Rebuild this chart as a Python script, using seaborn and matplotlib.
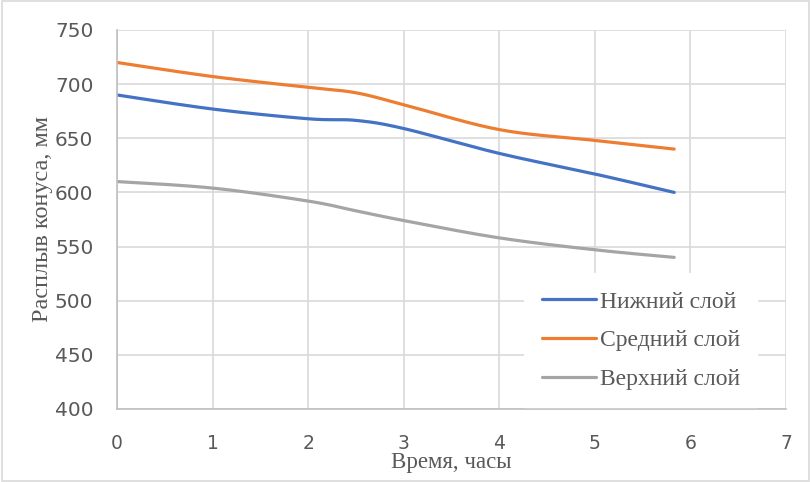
import numpy as np
import pandas as pd
import seaborn as sns
import matplotlib.pyplot as plt
from matplotlib.patches import Rectangle

# time points (hours) and cone spread (mm)
hours = [0, 1, 2, 2.5, 3, 4, 5, 5.83]
lower_layer = [690, 677, 668, 666.5, 659, 636, 617, 600]
middle_layer = [720, 707, 697, 692, 681, 658, 648, 640]
upper_layer = [610, 604, 592, 583, 574, 558, 547, 540]
series_names = ["Нижний слой", "Средний слой", "Верхний слой"]
colors = ["#4472C4", "#ED7D31", "#A5A5A5"]

x_ticks = [0, 1, 2, 3, 4, 5, 6, 7]
y_ticks = [400, 450, 500, 550, 600, 650, 700, 750]


def smooth(xs, ys, sx=95.6, sy=1.082, n=30):
    # excel-like smoothed line: bezier segments with 1/6 neighbour tangents
    p = np.column_stack([np.array(xs) * sx, np.array(ys) * sy])
    pts = np.vstack([p[0], p, p[-1]])
    out = []
    t = np.linspace(0, 1, n)[:, None]
    for i in range(1, len(pts) - 2):
        p0, p1 = pts[i], pts[i + 1]
        c1 = p0 + (pts[i + 1] - pts[i - 1]) / 6
        c2 = p1 - (pts[i + 2] - pts[i]) / 6
        seg = ((1 - t) ** 3) * p0 + 3 * ((1 - t) ** 2) * t * c1 + 3 * (1 - t) * t ** 2 * c2 + t ** 3 * p1
        out.append(seg if i == 1 else seg[1:])
    out = np.vstack(out)
    return out[:, 0] / sx, out[:, 1] / sy


frames = []
for name, vals in zip(series_names, [lower_layer, middle_layer, upper_layer]):
    sx_, sy_ = smooth(hours, vals)
    frames.append(pd.DataFrame({"x": sx_, "y": sy_, "series": name}))
df = pd.concat(frames, ignore_index=True)

sns.set_style("white")
plt.rcParams["font.family"] = ["DejaVu Sans"]

fig = plt.figure(figsize=(8.11, 4.82), dpi=100)
fig.patches.append(Rectangle((0.002, 0.003), 0.996, 0.994, transform=fig.transFigure,
                             fill=False, edgecolor="#d9d9d9", linewidth=1.2))
ax = fig.add_axes([0.1443, 0.1515, 0.8249, 0.7863])

sns.lineplot(data=df, x="x", y="y", hue="series", hue_order=series_names,
             palette=colors, sort=False, estimator=None, units="series",
             linewidth=2.3, ax=ax, legend=True)

ax.set_xlim(0, 7)
ax.set_ylim(400, 750)
ax.set_xticks(x_ticks)
ax.set_yticks(y_ticks)
ax.grid(True, color="#d9d9d9", linewidth=1.2)
ax.set_axisbelow(True)
for s in ["top", "right"]:
    ax.spines[s].set_visible(False)
ax.spines["left"].set_color("#bfbfbf")
ax.spines["bottom"].set_color("#bfbfbf")
ax.spines["left"].set_linewidth(1.2)
ax.spines["bottom"].set_linewidth(1.2)
ax.tick_params(axis="x", direction="out", length=4, color="#bfbfbf", width=1.2,
               labelsize=13.5, labelcolor="#595959", pad=14)
ax.tick_params(axis="y", length=0, labelsize=14.5, labelcolor="#595959", pad=17)
for lab in ax.get_xticklabels():
    lab.set_family(["Liberation Sans Narrow", "DejaVu Sans"])

ax.set_xlabel("Время, часы", family="Liberation Serif", fontsize=16.5, color="#595959", labelpad=-1)
ax.set_ylabel("Расплыв конуса, мм", family="Liberation Serif", fontsize=17.5, color="#595959", labelpad=1)

leg = ax.legend(loc="center", bbox_to_anchor=(0.790, 0.2936), bbox_transform=fig.transFigure,
                frameon=True, facecolor="white", edgecolor="white", framealpha=1,
                prop={"family": "Liberation Serif", "size": 17},
                handlelength=2.3, handletextpad=0.15, labelspacing=0.72,
                borderpad=0.75, fancybox=False)
for t in leg.get_texts():
    t.set_color("#595959")
for h in leg.get_lines():
    h.set_linewidth(2.3)

fig.savefig("out.png", dpi=100)
